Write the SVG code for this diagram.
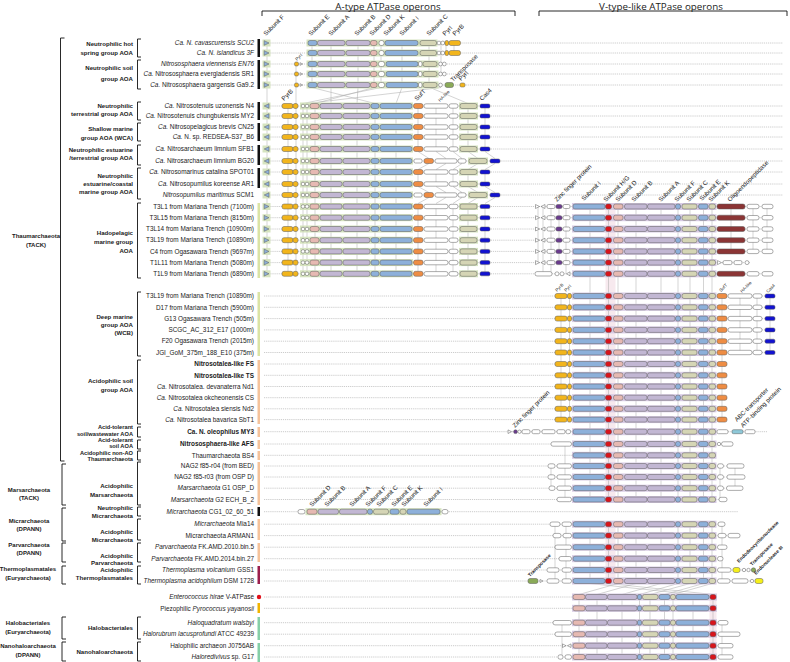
<svg xmlns="http://www.w3.org/2000/svg" width="790" height="662" viewBox="0 0 790 662">
<style>
text{font-family:"Liberation Sans",Arial,Helvetica,sans-serif;fill:#1a1a1a}
.sp{font-size:6.4px;text-anchor:end}
.it{font-style:italic}
.bd{font-weight:bold}
.gb{font-size:4.9px;font-weight:bold}
.l2{font-size:6.1px;font-weight:bold;text-anchor:end}
.l2s{font-size:5.7px}
.l1{font-size:6px;font-weight:bold;text-anchor:middle}
.hd{font-family:"Open Sans","Liberation Sans",sans-serif;font-size:9.8px;text-anchor:middle}
.gl{font-size:6.2px}
.gs{font-size:4.4px}
.br{fill:none;stroke:#111;stroke-width:0.9}
.dl{stroke:#999;stroke-width:0.5;stroke-dasharray:1.2 0.9}
.vl{stroke:#a8a8a8;stroke-width:0.5;fill:none}
.g{stroke:#5a5a5a;stroke-width:0.5}
.b{fill:#8db0da}.l{fill:#c2b7d3}.p{fill:#e6b9b2}.o{fill:#d5d5b5}.y{fill:#f2b51c}.or{fill:#ee8d44}.w{fill:#fff}.cb{fill:#1212d0}.r{fill:#d8141c}.zp{fill:#6a3b8e}.m{fill:#8b3535}.tg{fill:#8aaa58}.ye{fill:#f5ef1a}.lb{fill:#8ec8d8}
.bgG{fill:#d6e4bf}.bgP{fill:#d8cbe4}
</style>
<defs>
<g id="aFr"><rect class="bgG" x="262.5" y="-3.5" width="8" height="7"/><path class="g b" d="M264.2,-2.3L269,0L264.2,2.3Z"/></g>
<g id="aFl"><rect class="bgG" x="262.5" y="-3.5" width="8" height="7"/><path class="g b" d="M269,-2.3L264.2,0L269,2.3Z"/></g>
<g id="A1">
<rect class="bgG" x="306.5" y="-3.5" width="131" height="7"/>
<rect class="g b" x="308" y="-2.5" width="9" height="5" rx="2"/>
<rect class="g l" x="317.5" y="-2.5" width="27.5" height="5" rx="2"/>
<rect class="g l" x="346" y="-2.5" width="24" height="5" rx="2"/>
<rect class="g p" x="370.5" y="-2.5" width="6.5" height="5" rx="2"/>
<rect class="g w" x="379" y="-2.5" width="5" height="5" rx="2"/>
<rect class="g b" x="385" y="-2.5" width="33" height="5" rx="2"/>
<rect class="g o" x="420" y="-2.5" width="16.5" height="5" rx="2"/>
<circle class="g w" cx="439" cy="0" r="1.9"/>
<circle class="g w" cx="442.8" cy="0" r="1.9"/>
<rect class="g y" x="445" y="-2.5" width="3.5" height="5" rx="1.5"/>
<rect class="g y" x="449" y="-2.5" width="11.5" height="5" rx="2"/>
</g>
<g id="A2c">
<rect class="g y" x="294.5" y="-2" width="4" height="4" rx="1.5"/>
<path class="g w" d="M300,-1.3L302.6,0L300,1.3Z"/>
<rect class="bgG" x="306.5" y="-3.5" width="132" height="7"/>
<rect class="g b" x="308" y="-2.5" width="9" height="5" rx="2"/>
<rect class="g l" x="317.5" y="-2.5" width="27.5" height="5" rx="2"/>
<rect class="g l" x="346" y="-2.5" width="24" height="5" rx="2"/>
<rect class="g p" x="370.5" y="-2.5" width="6.5" height="5" rx="2"/>
<rect class="g w" x="378.5" y="-2.5" width="6" height="5" rx="2"/>
<rect class="g b" x="386" y="-2.5" width="32" height="5" rx="2"/>
<rect class="g w" x="418.5" y="-2.5" width="3.5" height="5" rx="1.5"/>
<rect class="g o" x="423" y="-2.5" width="14" height="5" rx="2"/>
</g>
<g id="A2"><use href="#A2c"/><circle class="g w" cx="440.5" cy="0" r="1.9"/><circle class="g w" cx="444.3" cy="0" r="1.9"/></g>
<g id="A2b"><use href="#A2c"/><circle class="g w" cx="440.5" cy="0" r="1.9"/><rect class="g tg" x="445" y="-2.5" width="8.5" height="5" rx="2"/><rect class="g y" x="460" y="-2" width="5" height="4" rx="1.5"/></g>
<g id="A3">
<rect class="g y" x="282" y="-2.5" width="11" height="5" rx="2"/>
<rect class="g y" x="293" y="-2.5" width="5" height="5" rx="2"/>
<rect class="bgG" x="300" y="-3.5" width="113" height="7"/>
<circle class="g w" cx="303" cy="0" r="1.8"/>
<circle class="g w" cx="307" cy="0" r="1.8"/>
<rect class="g p" x="310" y="-2.5" width="9" height="5" rx="2"/>
<rect class="g l" x="320" y="-2.5" width="22" height="5" rx="2"/>
<rect class="g l" x="343" y="-2.5" width="27" height="5" rx="2"/>
<rect class="g b" x="371" y="-2.5" width="8" height="5" rx="2"/>
<rect class="g b" x="380" y="-2.5" width="32" height="5" rx="2"/>
</g>
<g id="A3r">
<rect class="g or" x="413.5" y="-2.5" width="9.5" height="5" rx="2"/>
<rect class="g w" x="424" y="-2.2" width="24" height="4.4" rx="2"/>
<rect class="g w" x="449" y="-2.2" width="9" height="4.4" rx="2"/>
<rect class="bgG" x="459" y="-3.5" width="19" height="7"/>
<rect class="g o" x="460" y="-2.5" width="17" height="5" rx="2"/>
<rect class="g cb" x="480" y="-2" width="10" height="4" rx="1.5"/>
</g>
<g id="A3s">
<rect class="g w" x="414" y="-2" width="8" height="4" rx="1.5"/>
<rect class="g or" x="424" y="-2.5" width="9.5" height="5" rx="2"/>
<rect class="g w" x="435" y="-2.2" width="22" height="4.4" rx="2"/>
<rect class="g w" x="458" y="-2.2" width="8" height="4.4" rx="2"/>
<rect class="bgG" x="468" y="-3.5" width="20" height="7"/>
<rect class="g o" x="469" y="-2.5" width="18" height="5" rx="2"/>
<rect class="g cb" x="490" y="-2" width="10" height="4" rx="1.5"/>
</g>
<g id="Vb">
<rect class="bgP" x="572" y="-3.5" width="144.5" height="7"/>
<rect class="g b" x="573" y="-2.5" width="32" height="5" rx="2"/>
<rect class="g r" x="605.5" y="-2.5" width="6" height="5" rx="2"/>
<rect class="g p" x="613.5" y="-2.5" width="9.5" height="5" rx="2"/>
<rect class="g l" x="624.5" y="-2.5" width="22.5" height="5" rx="2"/>
<rect class="g l" x="647.5" y="-2.5" width="27.5" height="5" rx="2"/>
<rect class="g b" x="675.5" y="-2.5" width="5" height="5" rx="2"/>
<rect class="g o" x="682" y="-2.5" width="15" height="5" rx="2"/>
<rect class="g b" x="698.5" y="-2.5" width="9.5" height="5" rx="2"/>
<rect class="g o" x="709" y="-2.5" width="6.5" height="5" rx="2"/>
</g>
<g id="Vr">
<rect class="bgP" x="572" y="-3.5" width="145" height="7"/>
<rect class="g p" x="573" y="-2.5" width="12" height="5" rx="2"/>
<rect class="g l" x="585.5" y="-2.5" width="21.5" height="5" rx="2"/>
<rect class="g l" x="607.5" y="-2.5" width="29.5" height="5" rx="2"/>
<rect class="g b" x="637.5" y="-2.5" width="4" height="5" rx="1.5"/>
<rect class="g o" x="642.5" y="-2.5" width="15.5" height="5" rx="2"/>
<rect class="g b" x="659" y="-2.5" width="11" height="5" rx="2"/>
<rect class="g o" x="670.5" y="-2.5" width="5" height="5" rx="2"/>
<rect class="g b" x="676" y="-2.5" width="33" height="5" rx="2"/>
<rect class="g r" x="710" y="-2.5" width="6" height="5" rx="2"/>
</g>
<g id="VHl">
<path class="g w" d="M535.5,-2L539.5,0L535.5,2Z"/>
<path class="g w" d="M545,-2L541,0L545,2Z"/>
<rect class="g w" x="547" y="-2" width="8" height="4" rx="1.5"/>
<rect class="g zp" x="556" y="-2" width="6" height="4" rx="1.5"/>
<rect class="g w" x="563" y="-2" width="7" height="4" rx="1.5"/>
</g>
<g id="VHr">
<rect class="g m" x="717" y="-2.5" width="28" height="5" rx="2"/>
<rect class="g w" x="747" y="-2.2" width="12" height="4.4" rx="2"/>
<rect class="g w" x="762" y="-2.2" width="11" height="4.4" rx="2"/>
</g>
<g id="VPy">
<rect class="g y" x="555" y="-2.5" width="12" height="5" rx="2"/>
<rect class="g y" x="567.5" y="-2.5" width="4" height="5" rx="1.5"/>
</g>
<g id="VDr">
<rect class="g or" x="717" y="-2.5" width="10" height="5" rx="2"/>
<rect class="g w" x="728" y="-2.2" width="24" height="4.4" rx="2"/>
<rect class="g w" x="753" y="-2.2" width="9" height="4.4" rx="2"/>
<rect class="g cb" x="765" y="-2" width="10" height="4" rx="1.5"/>
</g>
<rect id="VSr" class="g or" x="717" y="-2.5" width="10" height="5" rx="2"/>
</defs>

<rect width="790" height="662" fill="#fff"/>

<g id="headers">
<text class="hd" x="388" y="9.5">A-type ATPase operons</text>
<text class="hd" x="661" y="9.5">V-type-like ATPase operons</text>
<path class="br" d="M262,16V11H515V16M539,16V11H787V16"/>
</g>

<g id="connectors">
<rect x="605.5" y="204" width="10" height="298" fill="#f7e9ee"/>
<rect x="605.5" y="522" width="10" height="61" fill="#f7e9ee"/>
<rect x="709.5" y="595" width="7" height="64" fill="#f7e9ee"/>
<path class="vl" d="M267,43V274M296,64V274M312,43V85M331,43V85M358,43V85M374,43V85M381,43V85M402,43V85M429,43V85M441,43V74M446,43V53M454,43V53
M312,87.5L375,103.5M374,87.5L315,103.5M430,87.5L468,103.5M441,87.5L307,103.5M381,87.5L303,103.5M331,87.5V103.5M358,87.5L357,103.5M402,87.5L396,103.5
M288,106V274M303,106V274M307,106V274M315,106V274M331,106V274M357,106V274M375,106V274M396,106V274
M418,106V149M436,106V149M453,106V149M468,106V149M485,106V149
M418,172V184M436,172V184M453,172V184M468,172V184M485,172V184
M418,206V274M436,206V274M453,206V274M468,206V274M485,206V274
M418,151.5L429,158.5M436,151.5L446,158.5M453,151.5L462,158.5M468,151.5L478,158.5M485,151.5L495,158.5
M429,163.5L418,169.5M446,163.5L436,169.5M462,163.5L453,169.5M478,163.5L468,169.5M495,163.5L485,169.5
M418,186.5L429,192.5M436,186.5L446,192.5M453,186.5L462,192.5M468,186.5L478,192.5M485,186.5L495,192.5
M429,197.5L418,203.5M446,197.5L436,203.5M462,197.5L453,203.5M478,197.5L468,203.5M495,197.5L485,203.5
M590,206V499.5M608.5,206V499.5M618,206V499.5M636,206V499.5M661,206V499.5M678,206V499.5M690,206V499.5M703.5,206V499.5M712,206V499.5
M590,524V581M608.5,524V581M618,524V581M636,524V581M661,524V581M678,524V581M690,524V581M703.5,524V581M712,524V581
M538,206V262.6M543,206V273.8M551,206V273.8M559,206V262.6M566,206V273.8M731,206V251.4M753,206V251.4M767,206V251.4
M561,296V419.6M569.5,296V419.6M722,296V419.6M740,296V352.5M757,296V352.5M770,296V352.5
M551,466V488M565,444V499.5M720,466V499.5M735,466V488M555,524V581M566,524V581M722,524V581
M590,583.5L693,594.5M608.5,583.5L713,594.5M618,583.5L579,594.5M636,583.5L597,594.5M661,583.5L622,594.5M678,583.5L639.5,594.5M690,583.5L650,594.5M703.5,583.5L664.5,594.5M712,583.5L673,594.5
M579,597V657M597,597V657M622,597V657M639.5,597V657M650,597V657M664.5,597V657M673,597V657M693,597V657M713,597V657M562,622.7V657M722,622.7V657"/>
</g>

<g id="row-SCU2" transform="translate(0,43)"><line class="dl" x1="264" x2="783"/><use href="#aFr"/><use href="#A1"/></g>
<g id="row-3F" transform="translate(0,53)"><line class="dl" x1="264" x2="783"/><use href="#aFr"/><use href="#A1"/></g>
<g id="row-EN76" transform="translate(0,64)"><line class="dl" x1="264" x2="783"/><use href="#aFr"/><use href="#A2"/></g>
<g id="row-SR1" transform="translate(0,74)"><line class="dl" x1="264" x2="783"/><use href="#aFr"/><use href="#A2"/></g>
<g id="row-Ga92" transform="translate(0,85)"><line class="dl" x1="264" x2="783"/><use href="#aFr"/><use href="#A2b"/></g>
<g id="row-N4" transform="translate(0,106)"><line class="dl" x1="264" x2="783"/><use href="#aFl"/><use href="#A3"/><use href="#A3r"/></g>
<g id="row-MY2" transform="translate(0,116)"><line class="dl" x1="264" x2="783"/><use href="#aFl"/><use href="#A3"/><use href="#A3r"/></g>
<g id="row-CN25" transform="translate(0,127)"><line class="dl" x1="264" x2="783"/><use href="#aFl"/><use href="#A3"/><use href="#A3r"/></g>
<g id="row-B6" transform="translate(0,137)"><line class="dl" x1="264" x2="783"/><use href="#aFl"/><use href="#A3"/><use href="#A3r"/></g>
<g id="row-SFB1" transform="translate(0,149)"><line class="dl" x1="264" x2="783"/><use href="#aFl"/><use href="#A3"/><use href="#A3r"/></g>
<g id="row-BG20" transform="translate(0,161)"><line class="dl" x1="264" x2="783"/><use href="#aFl"/><use href="#A3"/><use href="#A3s"/></g>
<g id="row-SPOT01" transform="translate(0,172)"><line class="dl" x1="264" x2="783"/><use href="#aFl"/><use href="#A3"/><use href="#A3r"/></g>
<g id="row-AR1" transform="translate(0,184)"><line class="dl" x1="264" x2="783"/><use href="#aFl"/><use href="#A3"/><use href="#A3r"/></g>
<g id="row-SCM1" transform="translate(0,195)"><line class="dl" x1="264" x2="783"/><use href="#aFl"/><use href="#A3"/><use href="#A3s"/></g>
<g id="row-T3L1" transform="translate(0,206.5)"><line class="dl" x1="264" x2="773"/><use href="#aFr"/><use href="#A3"/><use href="#A3r"/><use href="#VHl"/><use href="#Vb"/><use href="#VHr"/></g>
<g id="row-T3L15" transform="translate(0,217.7)"><line class="dl" x1="264" x2="773"/><use href="#aFr"/><use href="#A3"/><use href="#A3r"/><use href="#VHl"/><use href="#Vb"/><use href="#VHr"/></g>
<g id="row-T3L14" transform="translate(0,229)"><line class="dl" x1="264" x2="773"/><use href="#aFr"/><use href="#A3"/><use href="#A3r"/><use href="#VHl"/><use href="#Vb"/><use href="#VHr"/></g>
<g id="row-T3L19a" transform="translate(0,240.2)"><line class="dl" x1="264" x2="773"/><use href="#aFr"/><use href="#A3"/><use href="#A3r"/><use href="#VHl"/><use href="#Vb"/><use href="#VHr"/></g>
<g id="row-C4" transform="translate(0,251.4)"><line class="dl" x1="264" x2="773"/><use href="#aFr"/><use href="#A3"/><use href="#A3r"/><use href="#VHl"/><use href="#Vb"/><use href="#VHr"/></g>
<g id="row-T1L11" transform="translate(0,262.6)"><line class="dl" x1="264" x2="750"/><use href="#aFr"/><use href="#A3"/><use href="#A3r"/><use href="#VHl"/><use href="#Vb"/>
<path class="g w" d="M717.5,-2L721.5,0L717.5,2Z"/><rect class="g w" x="723" y="-2" width="9" height="4" rx="1.5"/><rect class="g w" x="734" y="-2" width="8" height="4" rx="1.5"/><circle class="g w" cx="747" cy="0" r="2"/></g>
<g id="row-T1L9" transform="translate(0,273.8)"><line class="dl" x1="264" x2="773"/><use href="#aFr"/><use href="#A3"/><use href="#A3r"/>
<rect class="g w" x="535" y="-2.2" width="17" height="4.4" rx="2"/><circle class="g w" cx="557" cy="0" r="2"/><circle class="g w" cx="562" cy="0" r="2"/><path class="g w" d="M570,-2L566.5,0L570,2Z"/><use href="#Vb"/><use href="#VHr"/></g>

<g id="row-D-T3L19" transform="translate(0,296)"><line class="dl" x1="264" x2="775"/><use href="#VPy"/><use href="#Vb"/><use href="#VDr"/></g>
<g id="row-D17" transform="translate(0,307.3)"><line class="dl" x1="264" x2="775"/><use href="#VPy"/><use href="#Vb"/><use href="#VDr"/></g>
<g id="row-G13" transform="translate(0,318.6)"><line class="dl" x1="264" x2="775"/><use href="#VPy"/><use href="#Vb"/><use href="#VDr"/></g>
<g id="row-SCGC" transform="translate(0,329.9)"><line class="dl" x1="264" x2="775"/><use href="#VPy"/><use href="#Vb"/><use href="#VDr"/></g>
<g id="row-F20" transform="translate(0,341.2)"><line class="dl" x1="264" x2="775"/><use href="#VPy"/><use href="#Vb"/><use href="#VDr"/></g>
<g id="row-JGI" transform="translate(0,352.5)"><line class="dl" x1="264" x2="775"/><use href="#VPy"/><use href="#Vb"/><use href="#VDr"/></g>
<g id="row-FS" transform="translate(0,364)"><line class="dl" x1="264" x2="727"/><use href="#VPy"/><use href="#Vb"/><use href="#VSr"/></g>
<g id="row-TS" transform="translate(0,375.3)"><line class="dl" x1="264" x2="727"/><use href="#VPy"/><use href="#Vb"/><use href="#VSr"/></g>
<g id="row-Nd1" transform="translate(0,386.5)"><line class="dl" x1="264" x2="727"/><use href="#VPy"/><use href="#Vb"/><use href="#VSr"/></g>
<g id="row-CS" transform="translate(0,397.7)"><line class="dl" x1="264" x2="727"/><use href="#VPy"/><use href="#Vb"/><use href="#VSr"/></g>
<g id="row-Nd2" transform="translate(0,408.8)"><line class="dl" x1="264" x2="727"/><use href="#VPy"/><use href="#Vb"/><use href="#VSr"/></g>
<g id="row-SbT1" transform="translate(0,419.6)"><line class="dl" x1="264" x2="727"/><use href="#VPy"/><use href="#Vb"/><use href="#VSr"/></g>
<g id="row-MY3" transform="translate(0,431.7)"><line class="dl" x1="264" x2="767"/>
<path class="g w" d="M508,-1.8L511.5,0L508,1.8Z"/><circle class="g zp" cx="515.5" cy="0" r="1.9"/><circle class="g w" cx="519.5" cy="0" r="1.7"/>
<rect class="g w" x="522" y="-2" width="8" height="4" rx="1.5"/><rect class="g w" x="532" y="-2" width="8" height="4" rx="1.5"/><rect class="g w" x="542" y="-2" width="13" height="4" rx="1.5"/><rect class="g w" x="557" y="-2" width="8" height="4" rx="1.5"/><rect class="g w" x="566" y="-2" width="4.5" height="4" rx="1.5"/>
<use href="#Vb"/><rect class="g w" x="717" y="-2" width="11" height="4" rx="1.5"/><rect class="g lb" x="732" y="-2" width="11" height="4" rx="1.5"/><rect class="g w" x="745" y="-2" width="10" height="4" rx="1.5"/></g>
<g id="row-AFS" transform="translate(0,444)"><line class="dl" x1="264" x2="733"/><rect class="g w" x="551" y="-2.2" width="20.5" height="4.4" rx="2"/><use href="#Vb"/><circle class="g w" cx="719" cy="0" r="1.7"/><rect class="g w" x="721.5" y="-2.2" width="11.5" height="4.4" rx="2"/></g>
<g id="row-BS4" transform="translate(0,455.3)"><line class="dl" x1="264" x2="716"/><use href="#Vb"/></g>
<g id="row-NAG04" transform="translate(0,466)"><line class="dl" x1="264" x2="744"/><rect class="g w" x="548" y="-2.2" width="7" height="4.4" rx="2"/><rect class="g w" x="557" y="-2.2" width="14.5" height="4.4" rx="2"/><use href="#Vb"/><rect class="g w" x="717.5" y="-2.2" width="6" height="4.4" rx="2"/><rect class="g w" x="727" y="-2.2" width="17" height="4.4" rx="2"/></g>
<g id="row-NAG03" transform="translate(0,477)"><line class="dl" x1="264" x2="745"/><rect class="g w" x="548" y="-2.2" width="7" height="4.4" rx="2"/><rect class="g w" x="557" y="-2.2" width="14.5" height="4.4" rx="2"/><use href="#Vb"/><rect class="g w" x="717.5" y="-2.2" width="6" height="4.4" rx="2"/><rect class="g w" x="727" y="-2.2" width="18" height="4.4" rx="2"/></g>
<g id="row-G1" transform="translate(0,488.2)"><line class="dl" x1="264" x2="743"/><rect class="g w" x="549" y="-2.2" width="6" height="4.4" rx="2"/><rect class="g w" x="557" y="-2.2" width="14.5" height="4.4" rx="2"/><use href="#Vb"/><rect class="g w" x="717.5" y="-2.2" width="6" height="4.4" rx="2"/><rect class="g w" x="726.5" y="-2.2" width="16.5" height="4.4" rx="2"/></g>
<g id="row-G2" transform="translate(0,499.5)"><line class="dl" x1="264" x2="727"/><rect class="g w" x="557" y="-2.2" width="14.5" height="4.4" rx="2"/><use href="#Vb"/><rect class="g w" x="719" y="-2.2" width="8" height="4.4" rx="2"/></g>
<g id="row-CG1" transform="translate(0,511.7)"><line class="dl" x1="264" x2="738"/>
<rect class="g w" x="298" y="-2.2" width="7" height="4.4" rx="2"/>
<rect class="bgG" x="305.5" y="-3.5" width="136" height="7"/>
<rect class="g p" x="307" y="-2.5" width="10" height="5" rx="2"/>
<rect class="g l" x="318" y="-2.5" width="20.5" height="5" rx="2"/>
<rect class="g l" x="339.5" y="-2.5" width="27.5" height="5" rx="2"/>
<rect class="g b" x="367.5" y="-2.5" width="5" height="5" rx="2"/>
<rect class="g o" x="373.5" y="-2.5" width="15" height="5" rx="2"/>
<rect class="g b" x="390" y="-2.5" width="9" height="5" rx="2"/>
<rect class="g o" x="400" y="-2.5" width="6" height="5" rx="2"/>
<rect class="g b" x="407" y="-2.5" width="33" height="5" rx="2"/>
<rect class="g w" x="442" y="-2.2" width="6" height="4.4" rx="2"/></g>
<g id="row-Mia14" transform="translate(0,524.2)"><line class="dl" x1="264" x2="725"/><rect class="g w" x="550" y="-2.2" width="10" height="4.4" rx="2"/><rect class="g w" x="562" y="-2.2" width="9.5" height="4.4" rx="2"/><use href="#Vb"/><rect class="g w" x="718" y="-2.2" width="7" height="4.4" rx="2"/></g>
<g id="row-ARMAN1" transform="translate(0,535.6)"><line class="dl" x1="264" x2="740"/><rect class="g w" x="553" y="-2.2" width="8" height="4.4" rx="2"/><rect class="g w" x="563" y="-2.2" width="8.5" height="4.4" rx="2"/><use href="#Vb"/><rect class="g w" x="718" y="-2.2" width="8" height="4.4" rx="2"/><rect class="g w" x="728" y="-2.2" width="12" height="4.4" rx="2"/></g>
<g id="row-FK2010" transform="translate(0,547.2)"><line class="dl" x1="264" x2="727"/><rect class="g w" x="555" y="-2.2" width="16.5" height="4.4" rx="2"/><use href="#Vb"/><rect class="g w" x="717.5" y="-2.2" width="9.5" height="4.4" rx="2"/></g>
<g id="row-FK2014" transform="translate(0,558.7)"><line class="dl" x1="264" x2="723"/><rect class="g w" x="559" y="-2.2" width="12.5" height="4.4" rx="2"/><use href="#Vb"/><rect class="g w" x="717.5" y="-2.2" width="5.5" height="4.4" rx="2"/></g>
<g id="row-GSS1" transform="translate(0,570)"><line class="dl" x1="264" x2="756"/><rect class="g w" x="547" y="-2.2" width="12" height="4.4" rx="2"/><rect class="g w" x="562" y="-2.2" width="9.5" height="4.4" rx="2"/><use href="#Vb"/><rect class="g w" x="717.5" y="-2.2" width="13.5" height="4.4" rx="2"/><rect class="g ye" x="733" y="-2.5" width="7" height="5" rx="2"/><circle class="g w" cx="744" cy="0" r="1.7"/><circle class="g w" cx="748.5" cy="0" r="1.7"/><circle class="g tg" cx="753.5" cy="0" r="2.2"/></g>
<g id="row-DSM1728" transform="translate(0,581)"><line class="dl" x1="264" x2="763"/><rect class="g tg" x="528" y="-2.5" width="10" height="5" rx="2"/><path class="g w" d="M540,-1.5L543,0L540,1.5Z"/><rect class="g w" x="547" y="-2.2" width="12" height="4.4" rx="2"/><rect class="g w" x="562" y="-2.2" width="9.5" height="4.4" rx="2"/><use href="#Vb"/><rect class="g w" x="717.5" y="-2.2" width="12.5" height="4.4" rx="2"/><rect class="g w" x="732" y="-2.2" width="16" height="4.4" rx="2"/><circle class="g w" cx="752" cy="0" r="1.7"/><rect class="g ye" x="755" y="-2.5" width="8" height="5" rx="2"/></g>
<g id="row-Entero" transform="translate(0,597)"><line class="dl" x1="264" x2="716"/><use href="#Vr"/></g>
<g id="row-Pyro" transform="translate(0,608.3)"><line class="dl" x1="264" x2="716"/><use href="#Vr"/></g>
<g id="row-Haloq" transform="translate(0,622.7)"><line class="dl" x1="264" x2="728"/><rect class="g w" x="553" y="-2.2" width="18.5" height="4.4" rx="2"/><use href="#Vr"/><rect class="g w" x="718" y="-2.2" width="10" height="4.4" rx="2"/></g>
<g id="row-Halor" transform="translate(0,634.2)"><line class="dl" x1="264" x2="740"/><rect class="g w" x="555" y="-2.2" width="16.5" height="4.4" rx="2"/><use href="#Vr"/><rect class="g w" x="718" y="-2.2" width="22" height="4.4" rx="2"/></g>
<g id="row-J0756" transform="translate(0,645.7)"><line class="dl" x1="264" x2="733"/><path class="g w" d="M562.5,-1.8L566,0L562.5,1.8Z"/><path class="g w" d="M571,-1.8L567.5,0L571,1.8Z"/><use href="#Vr"/><rect class="g w" x="718" y="-2.2" width="15" height="4.4" rx="2"/></g>
<g id="row-G17" transform="translate(0,657)"><line class="dl" x1="264" x2="733"/><rect class="g w" x="558" y="-2.2" width="5" height="4.4" rx="2"/><rect class="g w" x="565" y="-2.2" width="6.5" height="4.4" rx="2"/><use href="#Vr"/><rect class="g w" x="718" y="-2.2" width="15" height="4.4" rx="2"/></g>

<g id="gene-labels" class="gl">
<text transform="translate(266,36) rotate(-45)">Subunit F</text>
<text transform="translate(311,36) rotate(-45)">Subunit E</text>
<text transform="translate(331,36) rotate(-45)">Subunit A</text>
<text transform="translate(357,36) rotate(-45)">Subunit B</text>
<text transform="translate(372,36) rotate(-45)">Subunit D</text>
<text transform="translate(386,36) rotate(-45)">Subunit K</text>
<text transform="translate(402,36) rotate(-45)">Subunit I</text>
<text transform="translate(429,36) rotate(-45)">Subunit C</text>
<text transform="translate(445,36) rotate(-45)">PyrI</text>
<text transform="translate(455,36) rotate(-45)">PyrB</text>
<text class="gs" transform="translate(297,61) rotate(-45)">PyrI</text>
<text transform="translate(453,82) rotate(-45)">Transposase</text>
<text transform="translate(461,81) rotate(-45)">PyrI</text>
<text transform="translate(284,101) rotate(-45)">PyrB</text>
<text transform="translate(417,101) rotate(-45)">SufT</text>
<text class="gs" transform="translate(440,102) rotate(-45)">HA-like</text>
<text transform="translate(482,101) rotate(-45)">Cas4</text>
<text transform="translate(557,202) rotate(-45)">Zinc finger protein</text>
<text transform="translate(584,201) rotate(-45)">Subunit I</text>
<text transform="translate(606,202) rotate(-45)">Subunit H/G</text>
<text transform="translate(618,202) rotate(-45)">Subunit D</text>
<text transform="translate(634,202) rotate(-45)">Subunit B</text>
<text transform="translate(661,202) rotate(-45)">Subunit A</text>
<text transform="translate(677,202) rotate(-45)">Subunit F</text>
<text transform="translate(689,202) rotate(-45)">Subunit C</text>
<text transform="translate(702,201) rotate(-45)">Subunit E</text>
<text transform="translate(711,202) rotate(-45)">Subunit K</text>
<text transform="translate(730,202) rotate(-45)">Oligoendopeptidase</text>
<text class="gs" transform="translate(557,292) rotate(-45)">PyrB</text>
<text class="gs" transform="translate(566,292) rotate(-45)">PyrI</text>
<text class="gs" transform="translate(721,292) rotate(-45)">SufT</text>
<text class="gs" transform="translate(742,293) rotate(-45)">HA-like</text>
<text class="gs" transform="translate(768,293) rotate(-45)">Cas4</text>
<text transform="translate(515,428) rotate(-45)">Zinc finger protein</text>
<text transform="translate(737,422) rotate(-45)">ABC-transporter</text>
<text transform="translate(743,428) rotate(-45)">ATP-binding protein</text>
<text transform="translate(312,507) rotate(-45)">Subunit D</text>
<text transform="translate(327,507) rotate(-45)">Subunit B</text>
<text transform="translate(352,507) rotate(-45)">Subunit A</text>
<text transform="translate(368,507) rotate(-45)">Subunit F</text>
<text transform="translate(379,507) rotate(-45)">Subunit C</text>
<text transform="translate(394,507) rotate(-45)">Subunit E</text>
<text transform="translate(404,507) rotate(-45)">Subunit K</text>
<text transform="translate(426,507) rotate(-45)">Subunit I</text>
<text class="gb" transform="translate(530,577) rotate(-45)">Transposase</text>
<text class="gb" transform="translate(739,563) rotate(-45)">Endodeoxyribonuclease</text>
<text class="gb" transform="translate(752,566) rotate(-45)">Transposase</text>
<text class="gb" transform="translate(756,575) rotate(-45)">Endonuclease III</text>
</g>

<g id="bars">
<rect x="257.5" y="39" width="2.5" height="18" fill="#111"/>
<rect x="257.5" y="60" width="2.5" height="29" fill="#111"/>
<rect x="257.5" y="102" width="2.5" height="18" fill="#111"/>
<rect x="257.5" y="123" width="2.5" height="18" fill="#111"/>
<rect x="257.5" y="145" width="2.5" height="20" fill="#111"/>
<rect x="257.5" y="168" width="2.5" height="20" fill="#111"/>
<rect x="257.5" y="203" width="2.5" height="75" fill="#dbe3a4"/>
<rect x="257.5" y="292" width="2.5" height="64" fill="#dbe3a4"/>
<rect x="257.5" y="360" width="2.5" height="64" fill="#f5c39b"/>
<rect x="257.5" y="427" width="2.5" height="10" fill="#f5c39b"/>
<rect x="257.5" y="440" width="2.5" height="9" fill="#f5c39b"/>
<rect x="257.5" y="451" width="2.5" height="9" fill="#f5c39b"/>
<rect x="257.5" y="462" width="2.5" height="43" fill="#f5c39b"/>
<rect x="257.5" y="507" width="2.5" height="9" fill="#111"/>
<rect x="257.5" y="519" width="2.5" height="21" fill="#f5c39b"/>
<rect x="257.5" y="543" width="2.5" height="19" fill="#f5c39b"/>
<rect x="257.5" y="566" width="2.5" height="18" fill="#9c1f4d"/>
<circle cx="259" cy="597" r="2.2" fill="#e0101a"/>
<rect x="257.5" y="603" width="2.5" height="10" fill="#f1b400"/>
<rect x="257.5" y="617" width="2.5" height="23" fill="#86cfa8"/>
<rect x="257.5" y="643" width="2.5" height="19" fill="#86cfa8"/>
</g>

<g id="species" class="sp">
<text x="254" y="45.2" class="it">Ca. N. cavascurensis SCU2</text>
<text x="254" y="55.2" class="it">Ca. N. islandicus 3F</text>
<text x="254" y="66.2" class="it">Nitrososphaera viennensis EN76</text>
<text x="254" y="76.2"><tspan class="it">Ca.</tspan> Nitrososphaera evergladensis SR1</text>
<text x="254" y="87.2"><tspan class="it">Ca.</tspan> Nitrososphaera gargensis Ga9.2</text>
<text x="254" y="108.2"><tspan class="it">Ca.</tspan> Nitrosotenuis uzonensis N4</text>
<text x="254" y="118.2"><tspan class="it">Ca.</tspan> Nitrosotenuis chungbukensis MY2</text>
<text x="254" y="129.2"><tspan class="it">Ca.</tspan> Nitrosopelagicus brevis CN25</text>
<text x="254" y="139.2"><tspan class="it">Ca.</tspan> N. sp. REDSEA-S37_B6</text>
<text x="254" y="151.2"><tspan class="it">Ca.</tspan> Nitrosarchaeum limnium SFB1</text>
<text x="254" y="163.2"><tspan class="it">Ca.</tspan> Nitrosarchaeum limnium BG20</text>
<text x="254" y="174.2"><tspan class="it">Ca.</tspan> Nitrosomarinus catalina SPOT01</text>
<text x="254" y="186.2"><tspan class="it">Ca.</tspan> Nitrosopumilus koreense AR1</text>
<text x="254" y="197.2"><tspan class="it">Nitrosopumilus maritimus</tspan> SCM1</text>
<text x="254" y="208.7">T3L1 from Mariana Trench (7100m)</text>
<text x="254" y="219.9">T3L15 from Mariana Trench (8150m)</text>
<text x="254" y="231.2">T3L14 from Mariana Trench (10900m)</text>
<text x="254" y="242.4">T3L19 from Mariana Trench (10890m)</text>
<text x="254" y="253.6">C4 from Ogasawara Trench (9697m)</text>
<text x="254" y="264.8">T1L11 from Mariana Trench (5080m)</text>
<text x="254" y="276">T1L9 from Mariana Trench (6890m)</text>
<text x="254" y="298.2">T3L19 from Mariana Trench (10890m)</text>
<text x="254" y="309.5">D17 from Mariana Trench (5900m)</text>
<text x="254" y="320.8">G13 Ogasawara Trench (505m)</text>
<text x="254" y="332.1">SCGC_AC_312_E17 (1000m)</text>
<text x="254" y="343.4">F20 Ogasawara Trench (2015m)</text>
<text x="254" y="354.7">JGI_GoM_375m_188_E10 (375m)</text>
<text x="254" y="366.2" class="bd">Nitrosotalea-like  FS</text>
<text x="254" y="377.5" class="bd">Nitrosotalea-like TS</text>
<text x="254" y="388.7"><tspan class="it">Ca.</tspan> Nitrosotalea. devanaterra Nd1</text>
<text x="254" y="399.9"><tspan class="it">Ca.</tspan> Nitrosotalea okcheonensis CS</text>
<text x="254" y="411"><tspan class="it">Ca.</tspan> Nitrosotalea siensis Nd2</text>
<text x="254" y="421.8"><tspan class="it">Ca.</tspan> Nitrosotalea bavarica SbT1</text>
<text x="254" y="433.9" class="bd">Ca. N. oleophilus MY3</text>
<text x="254" y="446.2" class="bd">Nitrososphaera-like AFS</text>
<text x="254" y="457.5">Thaumarchaeota BS4</text>
<text x="254" y="468.2">NAG2 f85-r04 (from BED)</text>
<text x="254" y="479.2">NAG2 f85-r03 (from OSP D)</text>
<text x="254" y="490.4"><tspan class="it">Marsarchaeota</tspan> G1 OSP_D</text>
<text x="254" y="501.7"><tspan class="it">Marsarchaeota</tspan> G2 ECH_B_2</text>
<text x="254" y="513.9"><tspan class="it">Micrarchaeota</tspan> CG1_02_60_51</text>
<text x="254" y="526.4"><tspan class="it">Micrarchaeota</tspan> Mia14</text>
<text x="254" y="537.8">Micrarchaeota ARMAN1</text>
<text x="254" y="549.4"><tspan class="it">Parvarchaeota</tspan>  FK.AMD.2010.bin.5</text>
<text x="254" y="560.9"><tspan class="it">Parvarchaeota</tspan> FK.AMD.2014.bin.27</text>
<text x="254" y="572.2"><tspan class="it">Thermoplasma volcanium</tspan> GSS1</text>
<text x="254" y="583.2"><tspan class="it">Thermoplasma acidophilum</tspan> DSM 1728</text>
<text x="254" y="599.2"><tspan class="it">Enterococcus hirae</tspan> V-ATPase</text>
<text x="254" y="610.5">Piezophilic <tspan class="it">Pyrococcus yayanosii</tspan></text>
<text x="254" y="624.9" class="it">Haloquadratum walsbyi</text>
<text x="254" y="636.4"><tspan class="it">Halorubrum lacusprofundi</tspan> ATCC 49239</text>
<text x="254" y="647.9">Halophilic archaeon J0756AB</text>
<text x="254" y="659.2"><tspan class="it">Haloredivivus</tspan> sp. G17</text>
</g>

<g id="groups">
<path class="br" d="M141,39H137.5V57H141M141,60H137.5V89H141M141,102H137.5V120H141M141,123H137.5V141H141M141,145H137.5V165H141M141,168H137.5V199H141M141,203H137.5V278H141M141,292H137.5V356H141M141,360H137.5V424H141M141,427H137.5V437H141M141,440H137.5V449H141M141,451H137.5V460H141M141,462H137.5V505H141M141,507H137.5V516H141M141,519H137.5V540H141M141,543H137.5V562H141M141,566H137.5V584H141M141,617H137.5V639H141M141,642H137.5V661H141"/>
<path class="br" d="M64.5,38H60.5V461H64.5M66,464H62V505H66M66,508H62V541H66M66,543H62V562H66M66,566H62V584H66M66,617H62V639H66M66,642H62V661H66"/>
<g class="l2">
<text x="133" y="45.5">Neutrophilic hot</text><text x="133" y="54.5">spring group AOA</text>
<text x="133" y="70">Neutrophilic soil</text><text x="133" y="81">group AOA</text>
<text x="133" y="107.5">Neutrophilic</text><text x="133" y="116">terrestrial group AOA</text>
<text x="133" y="130.5">Shallow marine</text><text x="133" y="139.5">group AOA (WCA)</text>
<text x="133" y="151.5">Neutrophilic estuarine</text><text x="133" y="160">/terrestrial group AOA</text>
<text x="133" y="177.5">Neutrophilic</text><text x="133" y="185.5">estuarine/coastal</text><text x="133" y="193.5">marine group AOA</text>
<text x="133" y="235">Hadopelagic</text><text x="133" y="244">marine group</text><text x="133" y="253">AOA</text>
<text x="133" y="319">Deep marine</text><text x="133" y="327">group AOA</text><text x="133" y="335">(WCB)</text>
<text x="133" y="383">Acidophilic soil</text><text x="133" y="392">group AOA</text>
<text class="l2s" x="133" y="428.5">Acid-tolerant</text><text class="l2s" x="133" y="435.5">soil/wastewater AOA</text>
<text class="l2s" x="133" y="441.5">Acid-tolerant</text><text class="l2s" x="133" y="448">soil AOA</text>
<text class="l2s" x="133" y="454.5">Acidophilic non-AO</text><text class="l2s" x="133" y="461">Thaumarchaeota</text>
<text x="133" y="488">Acidophilic</text><text x="133" y="497">Marsarchaeota</text>
<text x="133" y="510">Neutrophilic</text><text x="133" y="517.5">Micrarchaeota</text>
<text x="133" y="534">Acidophilic</text><text x="133" y="542">Micrarchaeota</text>
<text x="133" y="558">Acidophilic</text><text x="133" y="564.5">Parvarchaeota</text>
<text x="133" y="571.5">Acidophilic</text><text x="133" y="579.5">Thermoplasmatales</text>
<text x="133" y="630">Halobacteriales</text>
<text x="133" y="654">Nanohaloarchaeota</text>
</g>
<g class="l1">
<text x="36" y="238">Thaumarchaeota</text><text x="36" y="246.5">(TACK)</text>
<text x="29" y="492">Marsarchaeota</text><text x="29" y="500">(TACK)</text>
<text x="29" y="523">Micrarchaeota</text><text x="29" y="530.5">(DPANN)</text>
<text x="29" y="547">Parvarchaeota</text><text x="29" y="555">(DPANN)</text>
<text x="28" y="571">Thermoplasmatales</text><text x="28" y="579.5">(Euryarchaeota)</text>
<text x="28" y="625">Halobacteriales</text><text x="28" y="633.5">(Euryarchaeota)</text>
<text x="28" y="648">Nanohaloarchaeota</text><text x="28" y="656.5">(DPANN)</text>
</g>
</g>
</svg>
